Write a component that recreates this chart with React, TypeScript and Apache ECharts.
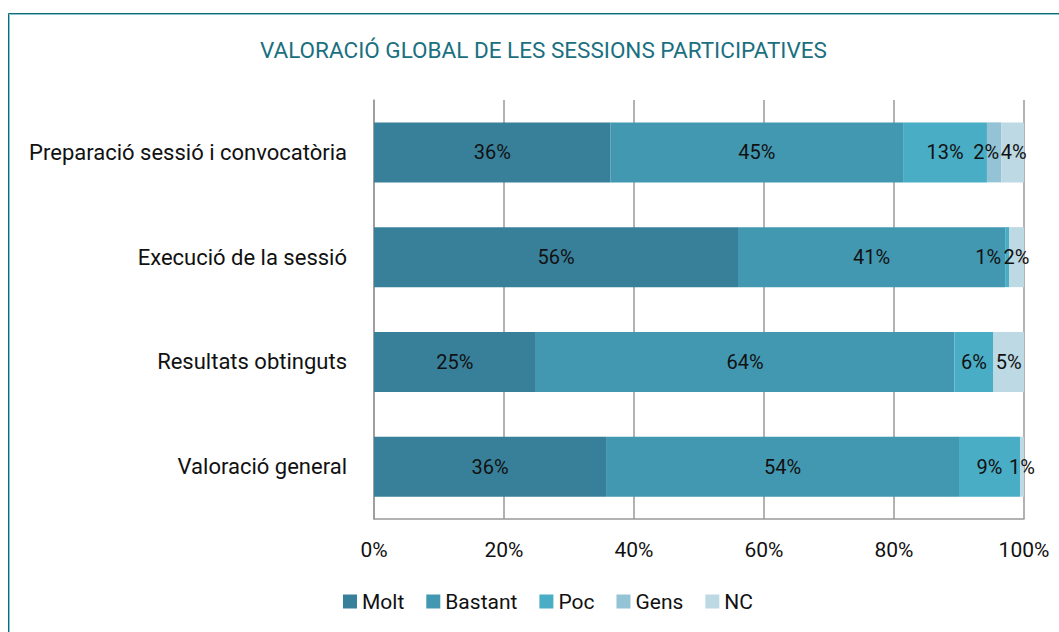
import React, { useEffect, useRef } from "react";
import * as echarts from "echarts";

const categories = [
  "Preparació sessió i convocatòria",
  "Execució de la sessió",
  "Resultats obtinguts",
  "Valoració general",
];
const seriesNames = ["Molt", "Bastant", "Poc", "Gens", "NC"];
const molt = [36.4, 56.0, 24.9, 35.7];
const bastant = [45.0, 41.1, 64.4, 54.3];
const poc = [12.9, 0.6, 6.0, 9.4];
const gens = [2.2, 0, 0, 0];
const nc = [3.5, 2.3, 4.7, 0.6];
const xTicks = [0, 20, 40, 60, 80, 100];
const colors = ["#38809A", "#4398B1", "#4AADC6", "#93C3D5", "#BDD9E4"];
const title = "VALORACIÓ GLOBAL DE LES SESSIONS PARTICIPATIVES";

const FONT = "Roboto";

export default function App() {
  const ref = useRef<HTMLDivElement>(null);
  useEffect(() => {
    if (!ref.current) return;
    const chart = echarts.init(ref.current, null, { renderer: "svg" });
    const values = [molt, bastant, poc, gens, nc];
    const labelOffsets: Record<string, number[]> = {
      "2-1": [-19, 0],
      "3-0": [-8, 0],
      "4-0": [1, 0],
    };
    const series = values.map((arr, si) => ({
      name: seriesNames[si],
      type: "bar",
      stack: "total",
      barWidth: 60,
      itemStyle: { color: colors[si] },
      label: {
        show: true,
        position: "inside",
        color: "#111",
        fontSize: 20,
        fontFamily: FONT,
        formatter: (p: any) => (p.value > 0 ? Math.round(p.value) + "%" : ""),
      },
      data: arr.map((v, ci) => {
        const off = labelOffsets[si + "-" + ci];
        if (off) {
          return { value: v, label: { offset: off } };
        }
        return v;
      }),
    }));
    chart.setOption({
      animation: false,
      textStyle: { fontFamily: FONT },
      graphic: [
        {
          type: "rect",
          shape: { x: 8.5, y: 13.5, width: 1100, height: 700 },
          style: { fill: "none", stroke: "#0F6A78", lineWidth: 1 },
          silent: true,
        },
        {
          type: "rect",
          shape: { x: 9.5, y: 14.5, width: 1100, height: 700 },
          style: { fill: "none", stroke: "#86C4D0", lineWidth: 1 },
          silent: true,
        },
      ],
      title: {
        text: title,
        left: 255,
        top: 33,
        textStyle: {
          color: "#1A7080",
          fontSize: 22.5,
          fontWeight: "normal",
          fontFamily: FONT,
        },
      },
      legend: {
        bottom: 15,
        left: 338,
        itemWidth: 14,
        itemHeight: 14,
        itemGap: 22,
        icon: "rect",
        textStyle: { fontSize: 21, color: "#111", fontFamily: FONT },
        data: seriesNames,
      },
      grid: { left: 374, right: 35, top: 100, bottom: 113 },
      xAxis: {
        type: "value",
        min: 0,
        max: 100,
        interval: 20,
        axisLine: { show: true, lineStyle: { color: "#999", width: 1.5 } },
        axisTick: { show: false },
        splitLine: { show: true, lineStyle: { color: "#999", width: 1.5 } },
        axisLabel: {
          margin: 20,
          fontSize: 21,
          color: "#111",
          fontFamily: FONT,
          formatter: (v: number) => (xTicks.includes(v) ? v + "%" : ""),
        },
      },
      yAxis: {
        type: "category",
        inverse: true,
        data: categories,
        axisLine: { show: true, lineStyle: { color: "#999", width: 1.5 } },
        axisTick: { show: false },
        axisLabel: {
          margin: 27,
          fontSize: 22,
          color: "#111",
          fontFamily: FONT,
        },
      },
      series,
    });
    return () => chart.dispose();
  }, []);
  return (
    <div
      ref={ref}
      style={{ position: "fixed", left: 0, top: 0, width: 1059, height: 632, background: "#fff" }}
    />
  );
}
